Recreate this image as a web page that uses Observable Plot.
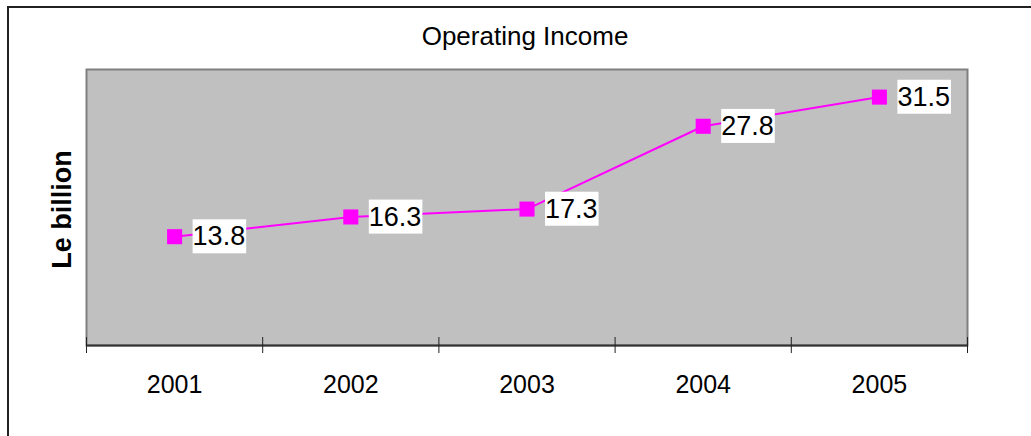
<!DOCTYPE html>
<html>
<head>
<meta charset="utf-8">
<script src="https://cdn.jsdelivr.net/npm/d3@7"></script>
<script src="https://cdn.jsdelivr.net/npm/@observablehq/plot@0.6"></script>
<style>
  html, body { margin: 0; padding: 0; background: #fff; width: 1031px; height: 436px; overflow: hidden; }
  #outer { position: absolute; left: 7px; top: 6px; width: 1100px; height: 500px; border: 2px solid #222; box-sizing: border-box; }
  #chart { position: absolute; left: 0; top: 0; }
</style>
</head>
<body>
<div id="outer"></div>
<div id="chart"></div>
<script>
const title = "Operating Income";
const yLabel = "Le billion";
const years = [2001, 2002, 2003, 2004, 2005];
const values = [13.8, 16.3, 17.3, 27.8, 31.5];
const valueLabels = ["13.8", "16.3", "17.3", "27.8", "31.5"];
const yDomain = [0, 35];

const data = years.map((y, i) => ({year: y, value: values[i], label: valueLabels[i]}));
const bounds = years.map(y => y - 0.5).concat([years[years.length - 1] + 0.5]);
const font = "'Liberation Sans', Arial, sans-serif";

const chart = Plot.plot({
  width: 1031,
  height: 436,
  marginLeft: 86,
  marginRight: 64,
  marginTop: 69,
  marginBottom: 91,
  style: {fontFamily: font, color: "#000", background: "transparent", overflow: "visible"},
  x: {type: "linear", domain: [bounds[0], bounds[bounds.length - 1]], axis: null},
  y: {domain: yDomain, axis: null},
  marks: [
    Plot.frame({fill: "#c0c0c0", stroke: "#808080", strokeWidth: 2}),
    Plot.ruleY([yDomain[0]], {stroke: "#333", strokeWidth: 2}),
    Plot.axisX({ticks: bounds, tickSize: 16, dy: -8, tickFormat: () => "", label: null, stroke: "#222", strokeWidth: 1}),
    Plot.axisX({ticks: years, tickSize: 0, tickPadding: 30, fontSize: 25, tickFormat: d => String(d), label: null, fill: "#000"}),
    Plot.line(data, {x: "year", y: "value", stroke: "#ff00ff", strokeWidth: 2}),
    Plot.dot(data, {x: "year", y: "value", symbol: "square", r: 8.5, fill: "#ff00ff", stroke: null}),
    Plot.text(data, {x: "year", y: "value", text: "label", textAnchor: "start", lineAnchor: "middle", dx: 18, fontSize: 27, fill: "#000", className: "lbl"}),
    Plot.text([title], {frameAnchor: "top", dy: -33, dx: -2, fontSize: 26, fill: "#000", lineAnchor: "middle"}),
    Plot.text([yLabel], {frameAnchor: "left", rotate: -90, dx: -24, dy: 2, fontSize: 27, fontWeight: "bold", fill: "#000", lineAnchor: "middle", textAnchor: "middle"})
  ]
});
document.getElementById("chart").append(chart);

// white boxes behind the data labels
chart.querySelectorAll("g.lbl text").forEach(t => {
  const bb = t.getBBox();
  const r = document.createElementNS("http://www.w3.org/2000/svg", "rect");
  const tr = t.getAttribute("transform");
  if (tr) r.setAttribute("transform", tr);
  r.setAttribute("x", bb.x);
  r.setAttribute("y", bb.y - 2);
  r.setAttribute("width", bb.width + 1);
  r.setAttribute("height", bb.height + 4);
  r.setAttribute("fill", "#fff");
  t.parentNode.insertBefore(r, t);
});
</script>
</body>
</html>
